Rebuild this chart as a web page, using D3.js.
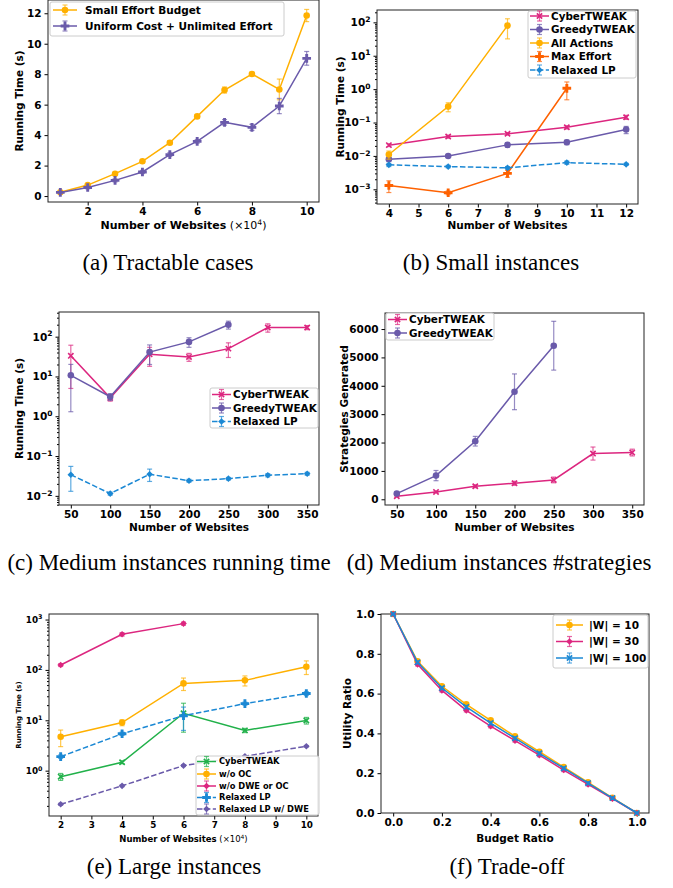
<!DOCTYPE html>
<html><head><meta charset="utf-8">
<script src="https://cdn.jsdelivr.net/npm/d3@7"></script>
<style>
body{margin:0;background:#fff}
svg text{font-family:"DejaVu Sans",sans-serif;font-weight:bold;fill:#000}
svg text.cap{font-family:"Liberation Serif","Times New Roman",serif;font-weight:normal;font-size:23px}
</style></head><body>
<svg id="fig" width="673" height="888"></svg>
<script>
// (a) Tractable cases
const aWebsites = [1, 2, 3, 4, 5, 6, 7, 8, 9, 10];
const aSmallEffort = [0.25, 0.72, 1.47, 2.28, 3.5, 5.23, 6.96, 8.01, 7.0, 11.85];
const aSmallEffortErr = [0.05, 0.06, 0.08, 0.1, 0.12, 0.12, 0.2, 0.12, 0.68, 0.4];
const aUniform = [0.24, 0.56, 1.03, 1.58, 2.72, 3.59, 4.84, 4.51, 5.91, 9.04];
const aUniformErr = [0.05, 0.08, 0.1, 0.1, 0.12, 0.12, 0.18, 0.2, 0.5, 0.45];

// (b) Small instances
const bWebsites = [4, 6, 8, 10, 12];
const bCyber = [0.021, 0.038, 0.046, 0.072, 0.144];
const bCyberErr = [0.002, 0.004, 0.004, 0.008, 0.02];
const bGreedy = [0.0079, 0.01, 0.0214, 0.0257, 0.0615];
const bGreedyErr = [0.0008, 0.001, 0.003, 0.004, 0.015];
const bAllWebsites = [4, 6, 8];
const bAll = [0.011, 0.3, 80];
const bAllErr = [0.003, 0.09, 48];
const bMaxWebsites = [4, 6, 8, 10];
const bMax = [0.0013, 0.00079, 0.003, 1.06];
const bMaxErr = [0.0005, 0.0001, 0.0007, 0.58];
const bLP = [0.0054, 0.0048, 0.0044, 0.0063, 0.0056];
const bLPErr = [0.0006, 0.0004, 0.0004, 0.0007, 0.0004];

// (c) Medium instances running time
const cWebsites = [50, 100, 150, 200, 250, 300, 350];
const cCyber = [33, 2.9, 36, 31, 50, 170, 170];
const cCyberErr = [28, 0.5, 18, 7, 20, 40, 20];
const cGreedyWebsites = [50, 100, 150, 200, 250];
const cGreedy = [10.7, 3.1, 41, 74, 200];
const cGreedyErr = [9.4, 0.6, 21, 20, 45];
const cLP = [0.034, 0.0114, 0.035, 0.024, 0.027, 0.033, 0.036];
const cLPErr = [0.021, 0.001, 0.012, 0.002, 0.002, 0.003, 0.003];

// (d) Medium instances #strategies
const dCyber = [106, 259, 459, 565, 682, 1612, 1647];
const dCyberErr = [20, 30, 50, 70, 100, 230, 120];
const dGreedy = [200, 835, 2047, 3788, 5412];
const dGreedyErr = [50, 180, 170, 630, 860];

// (e) Large instances
const eWebsites = [2, 4, 6, 8, 10];
const eCyber = [0.76, 1.47, 13.8, 6.3, 9.9];
const eCyberErr = [0.12, 0.1, 8, 0.6, 1.5];
const eNoOC = [4.7, 9.0, 54, 62, 116];
const eNoOCErr = [1.7, 1.2, 15, 14, 35];
const eNoDWEWebsites = [2, 4, 6];
const eNoDWE = [125, 510, 830];
const eNoDWEErr = [8, 40, 60];
const eLP = [1.9, 5.4, 12.3, 21.4, 34];
const eLPErr = [0.15, 0.4, 6, 1.5, 3];
const eLPDWE = [0.215, 0.5, 1.26, 1.93, 3.05];
const eLPDWEErr = [0.01, 0.02, 0.05, 0.06, 0.1];

// (f) Trade-off
const fBudget = [0, 0.1, 0.2, 0.3, 0.4, 0.5, 0.6, 0.7, 0.8, 0.9, 1.0];
const fW10 = [1.0, 0.762, 0.637, 0.546, 0.466, 0.385, 0.308, 0.231, 0.154, 0.076, 0.0];
const fW30 = [1.0, 0.747, 0.616, 0.516, 0.436, 0.364, 0.291, 0.216, 0.144, 0.072, 0.0];
const fW100 = [1.0, 0.757, 0.628, 0.533, 0.452, 0.376, 0.3, 0.225, 0.15, 0.075, 0.0];
const fErr = [0.004, 0.008, 0.008, 0.008, 0.008, 0.008, 0.008, 0.008, 0.008, 0.006, 0.004];

const pink = '#dc267f', purple = '#6a5aaa', yellow = '#ffb000',
  orange = '#fe6100', blue = '#1b88d4', green = '#21b14a';

const svg = d3.select('#fig');

function sym(type) {
  if (type === 'o') return d3.symbol(d3.symbolCircle, 34)();
  if (type === 'P') return d3.symbol(d3.symbolCross, 42)();
  if (type === 'D') return d3.symbol(d3.symbolSquare, 22)();
  return d3.symbol(d3.symbolX, 20)();
}

function drawMarker(g, type, cx, cy, color) {
  const m = g.append('path').attr('d', sym(type))
    .attr('transform', 'translate(' + cx + ',' + cy + ')' + (type === 'D' ? ' rotate(45)' : ''));
  if (type === 'x') m.attr('fill', 'none').attr('stroke', color).attr('stroke-width', 1.6);
  else m.attr('fill', color);
}

function errBar(g, cx, y0, y1, color) {
  g.append('line').attr('x1', cx).attr('x2', cx).attr('y1', y0).attr('y2', y1)
    .attr('stroke', color).attr('stroke-width', 1.2).attr('stroke-opacity', 0.7);
  [y0, y1].forEach((yy) => {
    g.append('line').attr('x1', cx - 2.5).attr('x2', cx + 2.5).attr('y1', yy).attr('y2', yy)
      .attr('stroke', color).attr('stroke-width', 1.2).attr('stroke-opacity', 0.7);
  });
}

function supLabel(text, d) {
  const e = Math.round(Math.log10(d));
  const t = d3.select(text);
  t.text(null);
  t.append('tspan').text('10');
  t.append('tspan').attr('dy', '-0.55em').attr('font-size', '0.72em')
    .text(e < 0 ? '\u2212' + -e : '' + e);
}

function drawPanel(p) {
  const g = svg.append('g');
  const x = d3.scaleLinear().domain(p.xDomain).range(p.xRange);
  const y = (p.log ? d3.scaleLog() : d3.scaleLinear()).domain(p.yDomain).range(p.yRange);
  const fs = p.fs || 10.5;

  const xa = g.append('g').attr('transform', 'translate(0,' + p.yRange[0] + ')')
    .call(d3.axisBottom(x).tickValues(p.xTicks).tickFormat(p.xFmt || ((d) => d))
      .tickSize(3.5).tickPadding(2.5).tickSizeOuter(0));
  const ya = g.append('g').attr('transform', 'translate(' + p.xRange[0] + ',0)')
    .call(d3.axisLeft(y).tickValues(p.yTicks).tickFormat(p.yFmt || ((d) => d))
      .tickSize(3.5).tickPadding(3).tickSizeOuter(0));
  [xa, ya].forEach((a) => {
    a.attr('font-size', p.tickFs || fs);
    a.select('.domain').remove();
    a.selectAll('line').attr('stroke', '#000');
  });
  if (p.log) {
    ya.selectAll('.tick text').each(function (d) { supLabel(this, d); });
    const minor = [];
    const lo = Math.floor(Math.log10(p.yDomain[0])), hi = Math.ceil(Math.log10(p.yDomain[1]));
    for (let k = lo; k <= hi; k++) {
      for (let m = 2; m < 10; m++) {
        const v = m * Math.pow(10, k);
        if (v > p.yDomain[0] && v < p.yDomain[1]) minor.push(v);
      }
    }
    g.append('g').attr('transform', 'translate(' + p.xRange[0] + ',0)')
      .call(d3.axisLeft(y).tickValues(minor).tickFormat('').tickSize(2).tickSizeOuter(0))
      .call((a) => { a.select('.domain').remove(); a.selectAll('line').attr('stroke', '#000'); });
  }

  g.append('rect').attr('x', p.xRange[0]).attr('y', p.yRange[1])
    .attr('width', p.xRange[1] - p.xRange[0]).attr('height', p.yRange[0] - p.yRange[1])
    .attr('fill', 'none').attr('stroke', '#222').attr('stroke-width', 1);

  p.series.forEach((s) => {
    const pts = s.xs.map((xv, i) => ({ x: xv, y: s.ys[i], e: s.err[i] }));
    const lo = p.yDomain[0];
    pts.forEach((d) => {
      errBar(g, x(d.x), y(Math.max(d.y - d.e, lo)), y(d.y + d.e), s.color);
    });
    g.append('path').datum(pts)
      .attr('d', d3.line().x((d) => x(d.x)).y((d) => y(d.y)))
      .attr('fill', 'none').attr('stroke', s.color).attr('stroke-width', 1.5)
      .attr('stroke-dasharray', s.dash ? '5.5,2.4' : null);
    pts.forEach((d) => drawMarker(g, s.marker, x(d.x), y(d.y), s.color));
  });

  // axis titles
  const xt = g.append('text').attr('x', (p.xRange[0] + p.xRange[1]) / 2).attr('y', p.xTitleY)
    .attr('text-anchor', 'middle').attr('font-size', p.xTitleFs || fs).text(p.xTitle);
  if (p.xScaleNote) {
    xt.append('tspan').attr('font-weight', 'normal').text(' (\u00d710');
    xt.append('tspan').attr('font-weight', 'normal').attr('dy', '-0.5em').attr('font-size', '0.7em').text('4');
    xt.append('tspan').attr('font-weight', 'normal').attr('dy', '0.35em').text(')');
  }
  g.append('text')
    .attr('transform', 'translate(' + p.yTitleX + ',' + (p.yRange[0] + p.yRange[1]) / 2 + ') rotate(-90)')
    .attr('text-anchor', 'middle').attr('font-size', p.yTitleFs || fs).text(p.yTitle);

  // legend
  const L = p.legend;
  const lg = svg.append('g');
  lg.append('rect').attr('x', L.x).attr('y', L.y).attr('width', L.w).attr('height', L.h)
    .attr('rx', 2).attr('fill', '#fff').attr('fill-opacity', 0.85).attr('stroke', '#cccccc');
  p.series.forEach((s, i) => {
    const cy = L.rows[i], mx = (L.hx0 + L.hx1) / 2;
    lg.append('line').attr('x1', L.hx0).attr('x2', L.hx1).attr('y1', cy).attr('y2', cy)
      .attr('stroke', s.color).attr('stroke-width', 1.5)
      .attr('stroke-dasharray', s.dash ? '5.5,2.4' : null);
    errBar(lg, mx, cy - 5, cy + 5, s.color);
    drawMarker(lg, s.marker, mx, cy, s.color);
    lg.append('text').attr('x', L.tx).attr('y', cy).attr('dy', '0.36em')
      .attr('font-size', L.fs).text(s.name);
  });
}

drawPanel({
  xDomain: [0.55, 10.45], xRange: [48, 319], yDomain: [-0.39, 12.87], yRange: [202, 0],
  xTicks: [2, 4, 6, 8, 10], yTicks: [0, 2, 4, 6, 8, 10, 12], fs: 10.5,
  xTitle: 'Number of Websites', xScaleNote: true, xTitleY: 229, xTitleFs: 11,
  yTitle: 'Running Time (s)', yTitleX: 23,
  series: [
    { name: 'Small Effort Budget', xs: aWebsites, ys: aSmallEffort, err: aSmallEffortErr, color: yellow, marker: 'o' },
    { name: 'Uniform Cost + Unlimited Effort', xs: aWebsites, ys: aUniform, err: aUniformErr, color: purple, marker: 'P' }
  ],
  legend: { x: 50, y: 2, w: 234, h: 34, rows: [10, 26], hx0: 53, hx1: 77, tx: 85, fs: 10.5 }
});

drawPanel({
  xDomain: [3.6, 12.4], xRange: [377, 638], log: true, yDomain: [Math.pow(10, -3.44), Math.pow(10, 2.37)], yRange: [204, 10],
  xTicks: [4, 5, 6, 7, 8, 9, 10, 11, 12], yTicks: [1e-3, 1e-2, 1e-1, 1, 10, 100], fs: 10.5,
  xTitle: 'Number of Websites', xTitleY: 229,
  yTitle: 'Running Time (s)', yTitleX: 344,
  series: [
    { name: 'CyberTWEAK', xs: bWebsites, ys: bCyber, err: bCyberErr, color: pink, marker: 'x' },
    { name: 'GreedyTWEAK', xs: bWebsites, ys: bGreedy, err: bGreedyErr, color: purple, marker: 'o' },
    { name: 'All Actions', xs: bAllWebsites, ys: bAll, err: bAllErr, color: yellow, marker: 'o' },
    { name: 'Max Effort', xs: bMaxWebsites, ys: bMax, err: bMaxErr, color: orange, marker: 'P' },
    { name: 'Relaxed LP', xs: bWebsites, ys: bLP, err: bLPErr, color: blue, marker: 'D', dash: true }
  ],
  legend: { x: 528, y: 11, w: 108, h: 67, rows: [16, 29.5, 43, 56.5, 70], hx0: 530, hx1: 549, tx: 551, fs: 10.4 }
});

drawPanel({
  xDomain: [35, 365], xRange: [59, 319], log: true, yDomain: [Math.pow(10, -2.23), Math.pow(10, 2.62)], yRange: [505, 312],
  xTicks: [50, 100, 150, 200, 250, 300, 350], yTicks: [1e-2, 1e-1, 1, 10, 100], fs: 10.5,
  xTitle: 'Number of Websites', xTitleY: 531,
  yTitle: 'Running Time (s)', yTitleX: 23,
  series: [
    { name: 'CyberTWEAK', xs: cWebsites, ys: cCyber, err: cCyberErr, color: pink, marker: 'x' },
    { name: 'GreedyTWEAK', xs: cGreedyWebsites, ys: cGreedy, err: cGreedyErr, color: purple, marker: 'o' },
    { name: 'Relaxed LP', xs: cWebsites, ys: cLP, err: cLPErr, color: blue, marker: 'D', dash: true }
  ],
  legend: { x: 210, y: 388, w: 108, h: 40, rows: [394.5, 408, 421.5], hx0: 212, hx1: 231, tx: 233, fs: 10.4 }
});

drawPanel({
  xDomain: [35, 365], xRange: [385, 644], yDomain: [-201, 6565], yRange: [505, 313],
  xTicks: [50, 100, 150, 200, 250, 300, 350], yTicks: [0, 1000, 2000, 3000, 4000, 5000, 6000], fs: 10.5,
  xTitle: 'Number of Websites', xTitleY: 531,
  yTitle: 'Strategies Generated', yTitleX: 348,
  series: [
    { name: 'CyberTWEAK', xs: cWebsites, ys: dCyber, err: dCyberErr, color: pink, marker: 'x' },
    { name: 'GreedyTWEAK', xs: cGreedyWebsites, ys: dGreedy, err: dGreedyErr, color: purple, marker: 'o' }
  ],
  legend: { x: 386, y: 313, w: 108, h: 27, rows: [319.5, 333], hx0: 388, hx1: 407, tx: 409, fs: 10.4 }
});

drawPanel({
  xDomain: [1.62, 10.38], xRange: [49, 318], log: true, yDomain: [Math.pow(10, -0.9), Math.pow(10, 3.11)], yRange: [816, 614],
  xTicks: [2, 3, 4, 5, 6, 7, 8, 9, 10], yTicks: [1, 10, 100, 1000], fs: 9, tickFs: 8.8,
  xTitle: 'Number of Websites', xScaleNote: true, xTitleY: 842, xTitleFs: 8.5,
  yTitle: 'Running Time (s)', yTitleX: 21, yTitleFs: 7,
  series: [
    { name: 'CyberTWEAK', xs: eWebsites, ys: eCyber, err: eCyberErr, color: green, marker: 'x' },
    { name: 'w/o OC', xs: eWebsites, ys: eNoOC, err: eNoOCErr, color: yellow, marker: 'o' },
    { name: 'w/o DWE or OC', xs: eNoDWEWebsites, ys: eNoDWE, err: eNoDWEErr, color: pink, marker: 'D' },
    { name: 'Relaxed LP', xs: eWebsites, ys: eLP, err: eLPErr, color: blue, marker: 'P', dash: true },
    { name: 'Relaxed LP w/ DWE', xs: eWebsites, ys: eLPDWE, err: eLPDWEErr, color: purple, marker: 'D', dash: true }
  ],
  legend: { x: 196, y: 756, w: 123, h: 59, rows: [761.5, 774, 786, 797.5, 809], hx0: 197, hx1: 216, tx: 219, fs: 8.3 }
});

drawPanel({
  xDomain: [-0.05, 1.05], xRange: [381, 649], yDomain: [0, 1], yRange: [813, 614],
  xTicks: [0, 0.2, 0.4, 0.6, 0.8, 1.0], yTicks: [0, 0.2, 0.4, 0.6, 0.8, 1.0], fs: 10.5,
  xFmt: d3.format('.1f'), yFmt: d3.format('.1f'),
  xTitle: 'Budget Ratio', xTitleY: 842,
  yTitle: 'Utility Ratio', yTitleX: 351,
  series: [
    { name: '|W| = 10', xs: fBudget, ys: fW10, err: fErr, color: yellow, marker: 'o' },
    { name: '|W| = 30', xs: fBudget, ys: fW30, err: fErr, color: pink, marker: 'D' },
    { name: '|W| = 100', xs: fBudget, ys: fW100, err: fErr, color: blue, marker: 'x' }
  ],
  legend: { x: 553, y: 615, w: 95, h: 53, rows: [625, 641.5, 658], hx0: 556, hx1: 583, tx: 589, fs: 10.5 }
});

// sub-figure captions
const captions = [
  ['(a) Tractable cases', 168, 270],
  ['(b) Small instances', 491, 270],
  ['(c) Medium instances running time', 169, 570],
  ['(d) Medium instances #strategies', 499, 570],
  ['(e) Large instances', 174, 874],
  ['(f) Trade-off', 507, 874]
];
svg.selectAll('text.cap').data(captions).enter().append('text')
  .attr('class', 'cap').attr('x', (d) => d[1]).attr('y', (d) => d[2])
  .attr('text-anchor', 'middle').text((d) => d[0]);
</script>
</body></html>
